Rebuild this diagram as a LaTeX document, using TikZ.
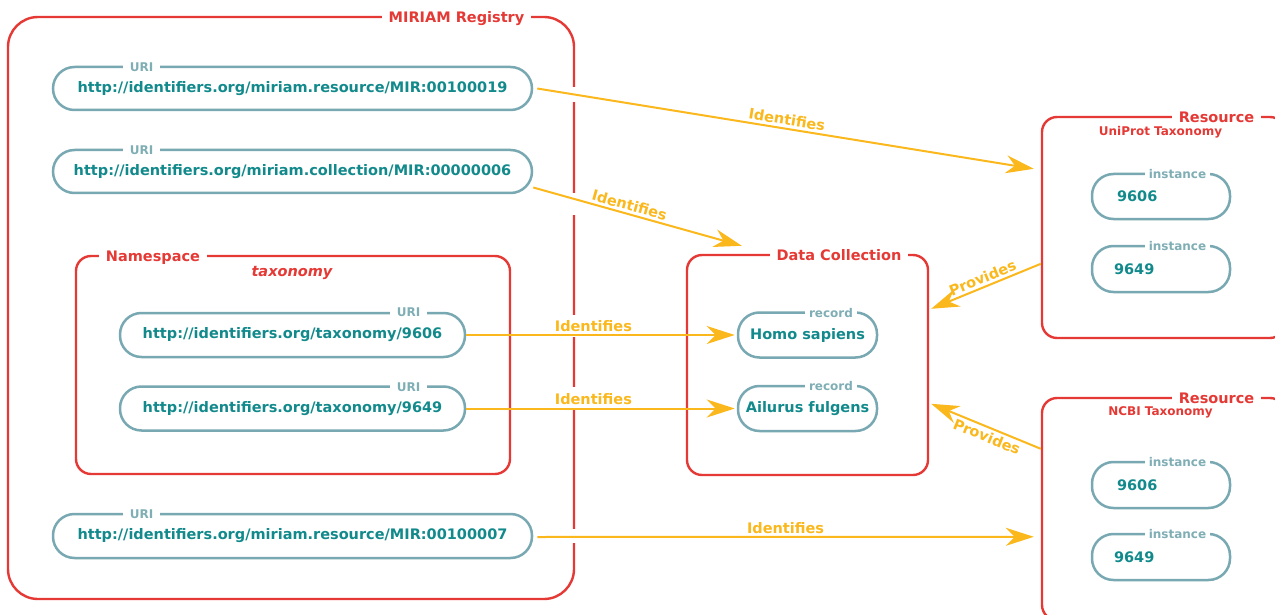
\documentclass[tikz,border=0pt]{standalone}
\usepackage{fontspec}
\setmainfont{DejaVu Sans}
\usetikzlibrary{arrows.meta,calc}
\definecolor{mred}{HTML}{E53935}
\definecolor{mteal}{HTML}{128A8C}
\definecolor{mpill}{HTML}{78A8B2}
\definecolor{mlab}{HTML}{7FAEB5}
\definecolor{morange}{HTML}{FBB81C}
\begin{document}
\begin{tikzpicture}[x=1pt,y=-1pt,
  box/.style={draw=mred, line width=2.4pt, rounded corners=15pt, inner sep=0pt},
  pill/.style={draw=mpill, line width=2.5pt, rounded corners=21.5pt, minimum height=43pt,
    text=mteal, font=\fontsize{14.5}{17}\selectfont\bfseries, inner sep=0pt},
  boxtitle/.style={fill=white, text=mred, font=\fontsize{14.5}{17}\selectfont\bfseries,
    inner xsep=7pt, inner ysep=1pt, anchor=base},
  tag/.style={fill=white, text=mlab, font=\fontsize{12}{14}\selectfont\bfseries,
    inner xsep=7pt, inner ysep=1pt, anchor=base},
  subtitle/.style={text=mred, font=\fontsize{12}{14}\selectfont\bfseries, inner sep=0pt},
  arr/.style={draw=morange, line width=2pt, -{Stealth[length=28pt,width=18pt,inset=9pt]}},
  lbl/.style={text=morange, font=\fontsize{14.5}{17}\selectfont\bfseries, inner sep=2.5pt, sloped}]
\useasboundingbox (0,0) rectangle (1275,615);
\clip (0,0) rectangle (1275,615);
\fill[white] (0,0) rectangle (1275,615);

% containers
\node[box, rounded corners=30pt, minimum width=566pt, minimum height=582pt] (miriam) at (291,308) {};
\node[box, minimum width=434pt, minimum height=218pt] (ns) at (293,365) {};
\node[box, minimum width=241pt, minimum height=220pt] (dc) at (807.5,365) {};
\node[box, minimum width=243pt, minimum height=221pt] (res1) at (1163.5,227.5) {};
\node[box, minimum width=243pt, minimum height=222pt] (res2) at (1163.5,509) {};

% gaps in the MIRIAM right border
\foreach \a/\b in {87/102, 193/215, 315/337, 387/410, 529/543}
  \fill[white] (570,\a) rectangle (578,\b);

% titles
\node[boxtitle] (tmiriam) at (456.5,22.5) {MIRIAM Registry};
\node[boxtitle] (tns) at (153,261.5) {Namespace};
\node[boxtitle] (tdc) at (839,260.5) {Data Collection};
\node[boxtitle] (tres1) at (1216.5,122.5) {Resource};
\node[boxtitle] (tres2) at (1216.5,403.5) {Resource};
\node[text=mred, font=\fontsize{14.5}{17}\selectfont\bfseries\itshape, inner sep=0pt] (nsname) at (292,273) {taxonomy};
\node[subtitle] (res1name) at (1160.5,132) {UniProt Taxonomy};
\node[subtitle] (res2name) at (1160.5,412) {NCBI Taxonomy};

% URIs
\node[pill, minimum width=479pt] (uri1) at (292.5,88.5) {http://identifiers.org/miriam.resource/MIR:00100019};
\node[tag] (turi1) at (141.5,71.5) {URI};
\node[pill, minimum width=479pt] (uri2) at (292.5,171.5) {http://identifiers.org/miriam.collection/MIR:00000006};
\node[tag] (turi2) at (141.5,154.5) {URI};
\node[pill, minimum width=345pt, minimum height=44pt] (uri3) at (292.5,335) {http://identifiers.org/taxonomy/9606};
\node[tag] (turi3) at (408.5,316.5) {URI};
\node[pill, minimum width=345pt, minimum height=44pt] (uri4) at (292.5,408.5) {http://identifiers.org/taxonomy/9649};
\node[tag] (turi4) at (408.5,391.5) {URI};
\node[pill, minimum width=479pt, minimum height=44pt] (uri5) at (292.5,536) {http://identifiers.org/miriam.resource/MIR:00100007};
\node[tag] (turi5) at (141.5,518.5) {URI};

% records
\node[pill, minimum width=139pt, minimum height=45pt] (rec1) at (807.5,335) {Homo sapiens};
\node[tag, inner xsep=4pt] (trec1) at (831,317.5) {record};
\node[pill, minimum width=139pt, minimum height=45pt] (rec2) at (807.5,408.5) {Ailurus fulgens};
\node[tag, inner xsep=4pt] (trec2) at (831,390.5) {record};

% instances
\node[pill, minimum width=138pt, minimum height=45pt, text width=88pt, align=left] (inst1) at (1161,196.5) {9606};
\node[tag, inner xsep=4pt] (tinst1) at (1177.5,178.5) {instance};
\node[pill, minimum width=138pt, minimum height=46pt, text width=94pt, align=left] (inst2) at (1161,269) {9649};
\node[tag, inner xsep=4pt] (tinst2) at (1177.5,250.5) {instance};
\node[pill, minimum width=138pt, minimum height=46pt, text width=88pt, align=left] (inst3) at (1161,485) {9606};
\node[tag, inner xsep=4pt] (tinst3) at (1177.5,466.5) {instance};
\node[pill, minimum width=138pt, minimum height=46pt, text width=94pt, align=left] (inst4) at (1161,557) {9649};
\node[tag, inner xsep=4pt] (tinst4) at (1177.5,538.5) {instance};

% connectors
\draw[arr] ($(uri1.east)+(4,0)$) -- node[lbl, above, pos=0.5] {Identifies} ($(res1.north west)+(-7,53)$);
\draw[arr] ($(uri2.east)+(0,16)$) -- node[lbl, above, pos=0.45] {Identifies} ($(dc.north west)+(56,-8)$);
\draw[arr, shorten >=2pt] (uri3.east) -- node[lbl, above, pos=0.47] {Identifies} (rec1.west |- uri3.east);
\draw[arr, shorten >=2pt] (uri4.east) -- node[lbl, above, pos=0.47] {Identifies} (rec2.west |- uri4.east);
\draw[arr] ($(uri5.east)+(4,1)$) -- node[lbl, above, pos=0.5] {Identifies} ($(res2.north west)+(-7,140)$);
\draw[arr] ($(res1.north west)+(0,148)$) -- node[lbl, above, pos=0.5] {Provides} ($(dc.north east)+(2,55)$);
\draw[arr] ($(res2.north west)+(0,52)$) -- node[lbl, below, pos=0.46] {Provides} ($(dc.north east)+(2,150)$);
\end{tikzpicture}
\end{document}
